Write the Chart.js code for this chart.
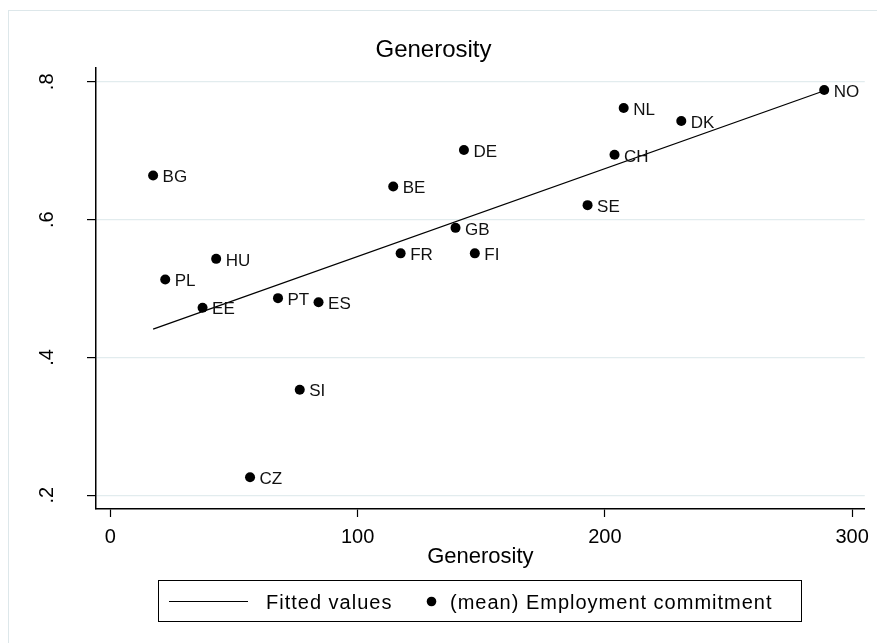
<!DOCTYPE html>
<html lang="en">
<head>
  <meta charset="UTF-8" />
  <title>Generosity</title>
  <script src="https://cdn.jsdelivr.net/npm/chart.js"></script>
  <style>
    body {
      margin: 0;
      background: #fff;
    }
    #chart {
      display: block;
    }
  </style>
</head>
<body>

<canvas id="chart" width="877" height="643"></canvas>

<script>
const countries = ['NO', 'NL', 'DK', 'CH', 'SE', 'DE', 'BE', 'BG', 'GB', 'FR', 'FI', 'HU', 'PL', 'EE', 'PT', 'ES', 'SI', 'CZ'];
const generosity = [288.7, 207.6, 230.9, 203.9, 193.0, 143.0, 114.4, 17.3, 139.6, 117.4, 147.4, 42.8, 22.2, 37.3, 67.8, 84.2, 76.6, 56.5];
const commitment = [0.788, 0.762, 0.743, 0.694, 0.621, 0.701, 0.648, 0.664, 0.588, 0.551, 0.551, 0.543, 0.513, 0.472, 0.486, 0.480, 0.353, 0.226];

// fitted line end points
const fitX = [17.3, 288.7];
const fitY = [0.441, 0.787];

const xTicks = [0, 100, 200, 300];
const yTicks = [0.2, 0.4, 0.6, 0.8];

const FONT = "'Liberation Sans', Arial, sans-serif";

const frame = {
  id: 'frame',
  beforeDraw(chart) {
    const ctx = chart.ctx;
    ctx.save();
    ctx.fillStyle = '#fff';
    ctx.fillRect(0, 0, chart.width, chart.height);
    ctx.strokeStyle = '#dde7ea';
    ctx.lineWidth = 1;
    ctx.strokeRect(8.5, 10.5, 900, 700);
    ctx.restore();
  }
};

const pointLabels = {
  id: 'pointLabels',
  afterDatasetsDraw(chart) {
    const ctx = chart.ctx;
    const meta = chart.getDatasetMeta(1);
    ctx.save();
    ctx.font = '17px ' + FONT;
    ctx.fillStyle = '#111';
    ctx.textAlign = 'left';
    ctx.textBaseline = 'middle';
    meta.data.forEach((pt, i) => {
      ctx.fillText(countries[i], pt.x + 9.5, pt.y + 2);
    });
    ctx.restore();
  }
};

// Stata style legend with a box round it
const boxLegend = {
  id: 'boxLegend',
  afterDraw(chart) {
    const ctx = chart.ctx;
    const ds = chart.data.datasets;
    ctx.save();
    ctx.strokeStyle = '#000';
    ctx.lineWidth = 1;
    ctx.strokeRect(158.5, 580.5, 643, 41);

    ctx.beginPath();
    ctx.moveTo(169, 601.5);
    ctx.lineTo(248, 601.5);
    ctx.lineWidth = 1.2;
    ctx.stroke();

    ctx.fillStyle = '#000';
    ctx.beginPath();
    ctx.arc(431.5, 601.5, 4.8, 0, Math.PI * 2);
    ctx.fill();

    ctx.font = '20px ' + FONT;
    if ('letterSpacing' in ctx) ctx.letterSpacing = '1px';
    ctx.textBaseline = 'middle';
    ctx.textAlign = 'left';
    ctx.fillText(ds[0].label, 266, 603);
    ctx.fillText(ds[1].label, 450, 603);
    ctx.restore();
  }
};

const ctx = document.getElementById('chart').getContext('2d');
new Chart(ctx, {
  type: 'scatter',
  data: {
    datasets: [
      {
        label: 'Fitted values',
        data: fitX.map((x, i) => ({ x: x, y: fitY[i] })),
        showLine: true,
        borderColor: '#000',
        borderWidth: 1.3,
        pointRadius: 0,
        fill: false
      },
      {
        label: '(mean) Employment commitment',
        data: generosity.map((x, i) => ({ x: x, y: commitment[i] })),
        backgroundColor: '#000',
        borderColor: '#000',
        pointRadius: 5,
        pointBorderWidth: 0
      }
    ]
  },
  options: {
    responsive: false,
    animation: false,
    devicePixelRatio: 1,
    layout: { padding: { left: 0, right: 10, top: 0, bottom: 72.8 } },
    plugins: {
      legend: { display: false },
      tooltip: { enabled: false },
      title: {
        display: true,
        text: 'Generosity',
        color: '#000',
        font: { family: FONT, size: 24, weight: 'normal' },
        padding: { top: 36, bottom: 3 }
      }
    },
    scales: {
      x: {
        type: 'linear',
        min: -5.8,
        max: 305.1,
        afterBuildTicks: scale => { scale.ticks = xTicks.map(v => ({ value: v })); },
        afterFit: scale => { scale.height = 61.2; },
        grid: { drawOnChartArea: false, tickLength: 8, tickColor: '#000', tickWidth: 1.2 },
        border: { display: true, color: '#000', width: 1.5 },
        ticks: {
          color: '#000',
          padding: 8,
          maxRotation: 0,
          font: { family: FONT, size: 20 },
          callback: v => String(v)
        },
        title: {
          display: true,
          text: 'Generosity',
          color: '#000',
          font: { family: FONT, size: 22 },
          padding: { top: 0, bottom: 0 }
        }
      },
      y: {
        type: 'linear',
        min: 0.18,
        max: 0.8203,
        afterBuildTicks: scale => { scale.ticks = yTicks.map(v => ({ value: v })); },
        afterFit: scale => { scale.width = 96; },
        grid: { color: '#e2ecee', lineWidth: 1.2, tickLength: 9, tickColor: '#000', tickWidth: 1.2 },
        border: { display: true, color: '#000', width: 1.5 },
        ticks: {
          color: '#000',
          padding: 31,
          minRotation: 90,
          maxRotation: 90,
          crossAlign: 'center',
          font: { family: FONT, size: 20 },
          callback: v => String(v).replace(/^0/, '')
        }
      }
    }
  },
  plugins: [frame, pointLabels, boxLegend]
});
</script>

</body>
</html>
